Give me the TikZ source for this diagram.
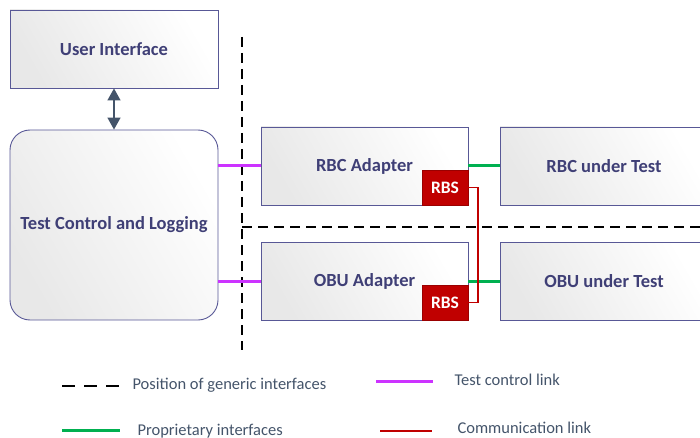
\documentclass[tikz,border=0pt]{standalone}
\usepackage{fontspec}
\setmainfont{Carlito}
\usepackage{tikz}
\usetikzlibrary{arrows.meta}
\definecolor{boxline}{RGB}{88,88,150}
\definecolor{boxtext}{RGB}{63,63,118}
\definecolor{rbsred}{RGB}{192,0,0}
\definecolor{ctrlpink}{RGB}{204,51,255}
\definecolor{propgreen}{RGB}{0,176,80}
\definecolor{slate}{RGB}{68,84,106}
\tikzstyle{block}=[draw=boxline,line width=0.9pt,left color=black!9,
                   right color=white,shading angle=120,
                   text=boxtext,font=\fontsize{18.5}{22}\selectfont\bfseries,
                   inner sep=0pt]
\tikzstyle{rbsbox}=[draw=rbsred!80!black,fill=rbsred,text=white,
                    font=\fontsize{17.5}{20}\selectfont\bfseries,
                    minimum width=46pt,minimum height=35pt,inner sep=0pt]
\tikzstyle{iface}=[black,line width=1.4pt,dash pattern=on 10pt off 6pt]
\tikzstyle{ctrllink}=[ctrlpink,line width=3pt]
\tikzstyle{proplink}=[propgreen,line width=3pt]
\tikzstyle{commlink}=[rbsred,line width=1.5pt]
\tikzstyle{legendtext}=[anchor=west,text=slate,font=\fontsize{16.5}{20}\selectfont]

\begin{document}
\begin{tikzpicture}[x=1pt,y=-1pt]
    \useasboundingbox (0,0) rectangle (700,438);
    % blocks
    \node (ui) at (114,49) [block,minimum width=208pt,minimum height=78pt]{User Interface};
    \node (tcl) at (114,225) [block,rounded corners=20pt,minimum width=208pt,
          minimum height=190pt]{Test Control and Logging};
    \node (rbca) at (364.5,166) [block,minimum width=207pt,minimum height=78pt]{RBC Adapter};
    \node (obua) at (364.5,281) [block,minimum width=207pt,minimum height=78pt]{OBU Adapter};
    \node (rbcut) at (604,166) [block,minimum width=208pt,minimum height=78pt]{RBC under Test};
    \node (obuut) at (604,281) [block,minimum width=208pt,minimum height=78pt]{OBU under Test};
    \node (rbs1) at (445,187.5) [rbsbox]{RBS};
    \node (rbs2) at (445,302.5) [rbsbox]{RBS};
    % generic interfaces
    \coordinate (v1) at (242,37);
    \coordinate (v2) at (242,350);
    \coordinate (h1) at (242,227);
    \coordinate (h2) at (700,227);
    \draw[iface] (v1) -- (v2);
    \draw[iface] (h1) -- (h2);
    % links
    \draw[slate,line width=1.5pt,{Triangle[width=13pt,length=12pt]}-{Triangle[width=13pt,length=12pt]}]
          (ui.south) -- (tcl.north);
    \draw[ctrllink] (rbca.west -| tcl.east) -- (rbca.west);
    \draw[ctrllink] (obua.west -| tcl.east) -- (obua.west);
    \draw[proplink] (rbca.east) -- (rbcut.west);
    \draw[proplink] (obua.east) -- (obuut.west);
    \draw[commlink] (rbs1.east) -- ++(10,0) |- (rbs2.east);
    % legend
    \coordinate (l1a) at (62,386);  \coordinate (l1b) at (120,386);
    \coordinate (l2a) at (376,381); \coordinate (l2b) at (433,381);
    \coordinate (l3a) at (62,430);  \coordinate (l3b) at (120,430);
    \coordinate (l4a) at (380,431); \coordinate (l4b) at (432,431);
    \draw[black,line width=1.4pt,dash pattern=on 13pt off 9pt] (l1a) -- (l1b);
    \draw[ctrllink] (l2a) -- (l2b);
    \draw[proplink] (l3a) -- (l3b);
    \draw[commlink] (l4a) -- (l4b);
    \node (t1) at (129,385) [legendtext]{Position of generic interfaces};
    \node (t2) at (451,380) [legendtext]{Test control link};
    \node (t3) at (134,431) [legendtext]{Proprietary interfaces};
    \node (t4) at (454,428) [legendtext]{Communication link};
\end{tikzpicture}
\end{document}
